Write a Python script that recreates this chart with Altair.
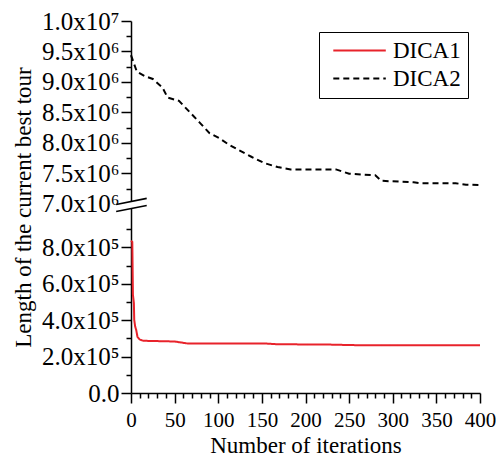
import altair as alt
import pandas as pd

# ---- data ----
iters_dica1 = [0, 1.5, 2.2, 3.3, 3.7, 4.8, 6, 7.4, 10, 14, 50, 65, 154, 168, 228, 257, 339, 400]
vals_dica1 = [8.37e5, 8.3e5, 5.4e5, 4.94e5, 4.02e5, 3.65e5, 3.46e5, 3.09e5, 2.94e5, 2.87e5,
              2.83e5, 2.72e5, 2.72e5, 2.68e5, 2.66e5, 2.63e5, 2.62e5, 2.62e5]

iters_dica2 = [0, 6.7, 16, 25, 36, 42, 55, 68, 79, 90, 101, 112.5, 124, 138.5, 153, 168, 183,
               235, 250, 280, 287, 324, 332, 372, 384, 400]
vals_dica2 = [9.44e6, 9.17e6, 9.095e6, 9.05e6, 8.91e6, 8.745e6, 8.69e6, 8.495e6, 8.33e6, 8.16e6,
              8.08e6, 7.97e6, 7.88e6, 7.77e6, 7.67e6, 7.605e6, 7.567e6, 7.567e6, 7.495e6, 7.47e6,
              7.38e6, 7.355e6, 7.34e6, 7.34e6, 7.317e6, 7.31e6]

series_names = ["DICA1", "DICA2"]

lower_major = [0, 2e5, 4e5, 6e5, 8e5]
lower_major_labels = ["0.0", "2.0x10\u2075", "4.0x10\u2075", "6.0x10\u2075", "8.0x10\u2075"]
lower_minor = [1e5, 3e5, 5e5, 7e5, 9e5]
upper_major = [7.0e6, 7.5e6, 8.0e6, 8.5e6, 9.0e6, 9.5e6, 1.0e7]
upper_major_labels = ["7.0x10\u2076", "7.5x10\u2076", "8.0x10\u2076", "8.5x10\u2076",
                      "9.0x10\u2076", "9.5x10\u2076", "1.0x10\u2077"]
upper_minor = [7.25e6, 7.75e6, 8.25e6, 8.75e6, 9.25e6, 9.75e6]

x_ticks = list(range(0, 401, 10))

# ---- broken-axis mapping ----
LOW_MAX, LOW_H = 1e6, 180.0
HIGH_MIN, HIGH_MAX, HIGH_H = 7e6, 1e7, 181.0
GAP = 7.0
TOTAL_H = LOW_H + GAP + HIGH_H


def disp(v):
    if v <= LOW_MAX:
        return v / LOW_MAX * LOW_H
    return LOW_H + GAP + (v - HIGH_MIN) / (HIGH_MAX - HIGH_MIN) * HIGH_H


disp_expr = (f"datum.v <= {LOW_MAX} ? datum.v / {LOW_MAX} * {LOW_H} : "
             f"{LOW_H + GAP} + (datum.v - {HIGH_MIN}) / {HIGH_MAX - HIGH_MIN} * {HIGH_H}")

rows = []
for it, v in zip(iters_dica1, vals_dica1):
    rows.append({"it": it, "v": v, "series": "DICA1"})
for it, v in zip(iters_dica2, vals_dica2):
    rows.append({"it": it, "v": v, "series": "DICA2"})
df = pd.DataFrame(rows)

major_pairs = [(round(disp(v), 3), l) for v, l in zip(lower_major + upper_major,
                                                       lower_major_labels + upper_major_labels)]
minor_d = [round(disp(v), 3) for v in lower_minor + upper_minor]
y_values = sorted([d for d, _ in major_pairs] + minor_d)

label_expr = "''"
for d, lab in reversed(major_pairs):
    label_expr = f"abs(datum.value - {d}) < 0.01 ? '{lab}' : ({label_expr})"
major_test = " || ".join(f"abs(datum.value - {d}) < 0.01" for d, _ in major_pairs)

FONT = "Liberation Serif"

legend = alt.Legend(
    title=None, orient="none", legendX=188, legendY=11,
    strokeColor="black", fillColor="white", padding=7,
    symbolType="M-0.4,0H4.6", symbolSize=441, symbolStrokeWidth=2,
    labelFont=FONT, labelFontSize=23, labelColor="black", labelOffset=44,
    rowPadding=4,
)

x_axis = alt.Axis(
    title="Number of iterations", values=x_ticks,
    labelExpr="datum.value % 50 === 0 ? datum.value : ''",
    tickSize={"condition": {"test": "datum.value % 50 === 0", "value": 10}, "value": 5},
    labelFont=FONT, labelFontSize=21, labelPadding=6, titlePadding=4, labelFlush=False,
    labelOverlap=False, grid=False, domainColor="black", tickColor="black",
    domainWidth=1.5, tickWidth=1.5, labelColor="black", titleColor="black",
    titleFont=FONT, titleFontSize=23, titleFontWeight="normal",
)
y_axis = alt.Axis(
    title="Length of the current best tour", values=y_values,
    labelExpr=label_expr,
    tickSize={"condition": {"test": major_test, "value": 10}, "value": 5},
    labelFont=FONT, labelFontSize=25, labelPadding=2, titlePadding=6, labelOverlap=False,
    grid=False, domainColor="black", tickColor="black",
    domainWidth=1.5, tickWidth=1.5, labelColor="black", titleColor="black",
    titleFont=FONT, titleFontSize=23, titleFontWeight="normal",
)
x_scale = alt.Scale(domain=[0, 400], nice=False, zero=False)
y_scale = alt.Scale(domain=[0, TOTAL_H], nice=False, zero=False)

lines = alt.Chart(df).transform_calculate(d=disp_expr).mark_line(strokeWidth=2).encode(
    x=alt.X("it:Q", scale=x_scale, axis=x_axis),
    y=alt.Y("d:Q", scale=y_scale, axis=y_axis),
    color=alt.Color("series:N", scale=alt.Scale(domain=series_names, range=["#e8232b", "black"]),
                    legend=legend),
    strokeDash=alt.StrokeDash("series:N", scale=alt.Scale(domain=series_names, range=[[1, 0], [6, 4]]),
                              legend=legend),
    detail="series:N",
)

# broken-axis marks (in data units, around the gap)
gap_mid = LOW_H + GAP / 2
brk = pd.DataFrame({
    "x1": [-17, -17, -17], "x2": [18, 18, 18],
    "y1": [gap_mid - 0.5, gap_mid - 4.0, gap_mid + 3.0],
    "y2": [gap_mid + 5.5, gap_mid + 2.0, gap_mid + 9.0],
    "w": [6, 1.6, 1.6], "c": ["white", "black", "black"],
})
breaks = alt.Chart(brk).mark_rule().encode(
    x=alt.X("x1:Q", scale=x_scale, axis=x_axis),
    x2="x2:Q",
    y=alt.Y("y1:Q", scale=y_scale, axis=y_axis),
    y2="y2:Q",
    strokeWidth=alt.StrokeWidth("w:Q", scale=None),
    color=alt.Color("c:N", scale=None),
)

chart = alt.layer(lines, breaks).properties(
    width=488, height=449, background="white",
    padding={"left": 4, "top": 1, "right": 0, "bottom": 0},
    autosize=alt.AutoSizeParams(type="fit", contains="padding"),
).configure_view(stroke=None)

chart.save("out.html", embed_options={"renderer": "svg", "actions": False})
